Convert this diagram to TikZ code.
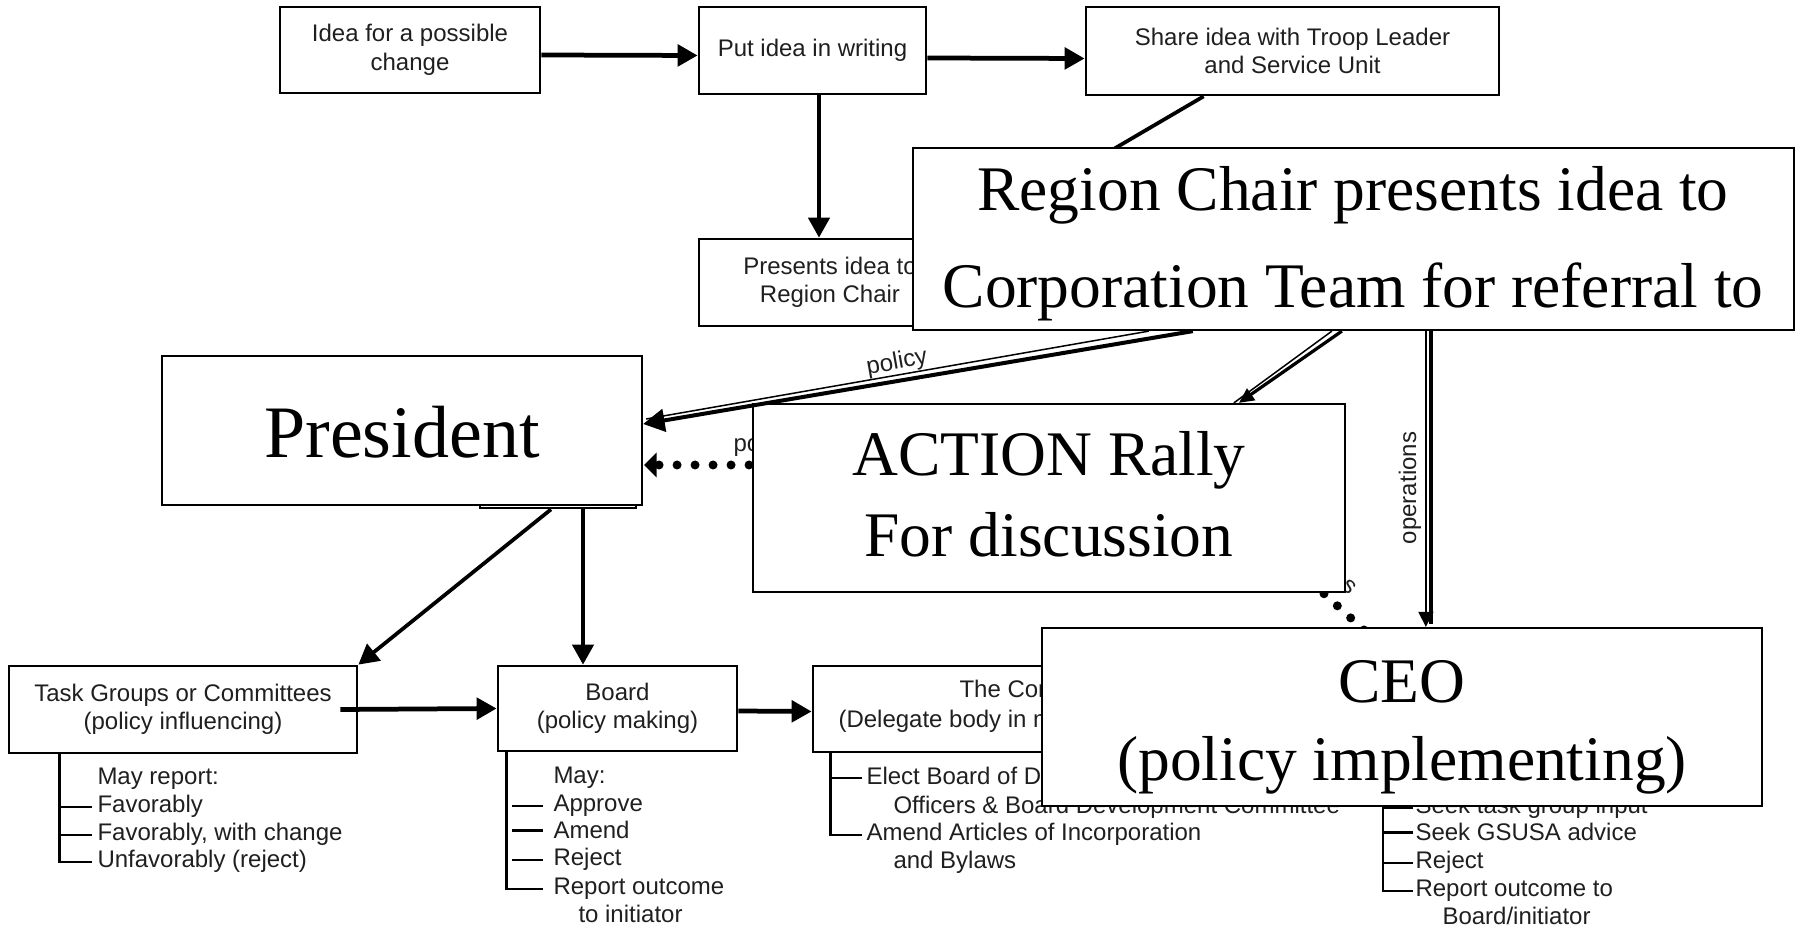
\documentclass[tikz,border=0pt]{standalone}
\usepackage{fontspec}
\setmainfont{Liberation Serif}
\setsansfont{Liberation Sans}
\usetikzlibrary{arrows.meta}
\begin{document}
\begin{tikzpicture}[x=0.4pt,y=-0.4pt,
  sm/.style={font=\sffamily\fontsize{9.6}{11.4}\selectfont, text=black!88},
  box/.style={draw, line width=1.1pt, inner sep=0pt, align=center, sm},
  ovbox/.style={draw, fill=white, line width=0.9pt, inner sep=0pt},
  bigtext/.style={font=\rmfamily\fontsize{25.4}{30}\selectfont, inner sep=0pt, anchor=base},
  itemtext/.style={sm, anchor=base west, inner sep=0pt},
  lbl/.style={sm, inner sep=0pt},
  flow/.style={line width=1.9pt, -{Triangle[length=8pt,width=8.5pt]}},
  midarrow/.style={line width=1.5pt, -{Triangle[length=8pt,width=8.5pt]}},
  thinline/.style={line width=0.6pt},
  listline/.style={line width=1pt},
  dotline/.style={line width=3.6pt, line cap=round, dash pattern=on 0pt off 7.2pt,
    -{Triangle[length=5pt,width=10pt,line width=0pt]}}
]
\useasboundingbox (0,0) rectangle (1800,930);

% ---------- underlying flowchart ----------
\node[box, minimum width=104pt, minimum height=34.4pt] (idea) at (410,50) {Idea for a possible\\change};
\node[box, minimum width=90.8pt, minimum height=34.8pt] (put) at (812.5,50.5) {Put idea in writing};
\node[box, minimum width=165.2pt, minimum height=35.2pt] (share) at (1292.5,51) {Share idea with Troop Leader\\and Service Unit};
\node[box, minimum width=104.8pt, minimum height=34.8pt] (pres) at (830,282.5) {Presents idea to\\Region Chair};

\draw[flow] ([yshift=-2pt]idea.east) -- ([yshift=-2pt]put.west);
\draw[flow] ([yshift=-3pt]put.east) -- ([yshift=-3pt]share.west);
\coordinate (pdn) at ([xshift=2.6pt]put.south);
\draw[midarrow] (pdn) -- (pdn |- pres.north);
\draw[midarrow] ([xshift=47.6pt]share.south west) -- (pres.north east);

\node[box, minimum width=62.4pt, minimum height=35.2pt] (presU) at (558,464) {};

\node[box, minimum width=139.2pt, minimum height=34.8pt] (task) at (183,709.5) {Task Groups or Committees\\(policy influencing)};
\node[box, minimum width=95.6pt, minimum height=34pt] (board) at (617.5,708.5) {Board\\(policy making)};
\node[box, minimum width=166.8pt, minimum height=34.4pt] (conv) at (1021.5,709) {};
\node[itemtext] (convt1) at (959,698) {The Corporation};
\node[itemtext] (convt2) at (838,728) {(Delegate body in membership)};

\coordinate (pA) at ([xshift=-2.8pt]presU.south);
\draw[midarrow] (pA) -- (task.north east);
\coordinate (pB) at ([xshift=10pt]presU.south);
\draw[midarrow] (pB) -- (pB |- board.north);
\draw[flow] ([xshift=-7.2pt]task.east) -- (board.west);
\draw[flow] ([yshift=-1pt]board.east) -- ([yshift=-1pt]conv.west);

% task list
\node[itemtext] (tk0) at (97,785) {May report:};
\node[itemtext] (tk1) at (97,813) {Favorably};
\node[itemtext] (tk2) at (97,841) {Favorably, with change};
\node[itemtext] (tk3) at (97,868) {Unfavorably (reject)};
\coordinate (tv) at ([xshift=20.8pt]task.south west);
\draw[listline] (tv) |- ([xshift=-2pt]tk3.west);
\foreach \n in {tk1,tk2} \draw[listline] ([xshift=-2pt]\n.west) -- (tv |- \n.west);

% board list
\node[itemtext] (bd0) at (553,784) {May:};
\node[itemtext] (bd1) at (553,812) {Approve};
\node[itemtext] (bd2) at (553,839) {Amend};
\node[itemtext] (bd3) at (553,866) {Reject};
\node[itemtext] (bd4) at (553,895) {Report outcome};
\node[itemtext] (bd5) at (578,923) {to initiator};
\coordinate (bv) at ([xshift=4pt]board.south west);
\draw[listline] (bv) |- ([xshift=-4pt]bd4.west);
\foreach \n in {bd1,bd2,bd3} \draw[listline] ([xshift=-4pt]\n.west) -- ++(-31,0);

% convention list
\node[itemtext] (cv1) at (866,785) {Elect Board of Directors,};
\node[itemtext] (cv2) at (893,814) {Officers \& Board Development Committee};
\node[itemtext] (cv3) at (866,841) {Amend Articles of Incorporation};
\node[itemtext] (cv4) at (893,869) {and Bylaws};
\coordinate (cvv) at ([xshift=7.6pt]conv.south west);
\draw[listline] (cvv) |- ([xshift=-1.6pt]cv3.west);
\draw[listline] ([xshift=-1.6pt]cv1.west) -- (cvv |- cv1.west);

% CEO list
\node[itemtext] (ce1) at (1415,814) {Seek task group input};
\node[itemtext] (ce2) at (1415,841) {Seek GSUSA advice};
\node[itemtext] (ce3) at (1415,869) {Reject};
\node[itemtext] (ce4) at (1415,897) {Report outcome to};
\node[itemtext] (ce5) at (1442,925) {Board/initiator};
\coordinate (cev) at (1383,790);
\draw[listline] (cev) |- ([xshift=-0.8pt]ce4.west);
\foreach \n in {ce1,ce2,ce3} \draw[listline] ([xshift=-0.8pt]\n.west) -- (cev |- \n.west);

% labels partly hidden
\node[itemtext] (pol2) at (733,452) {policy};
\node[sm, inner sep=0pt, anchor=base east, rotate=-42] (ops2) at (1350,596) {operations};

% ---------- overlay: President ----------
\node[ovbox, minimum width=192pt, minimum height=59.6pt] (president) at (402,430.5) {};
\node[font=\rmfamily\fontsize{29.6}{34}\selectfont, anchor=base, inner sep=0pt] (prest) at (402,458) {President};

% dotted connector CEO -> President
\coordinate (dstart) at (1364,630);
\coordinate (dmid1) at (1300,572);
\coordinate (dmid2) at (770,465);
\draw[dotline] (dstart) -- (dmid1) -- (dmid2) -- ([xshift=0.4pt,yshift=-13.8pt]president.east);

% ---------- overlays ----------
\node[ovbox, minimum width=352.4pt, minimum height=72.8pt] (region) at (1353.5,239) {};
\node[bigtext] (rc1) at (1353,211) {Region Chair presents idea to};
\node[bigtext] (rc2) at (1353,308) {Corporation Team for referral to};

\node[ovbox, minimum width=236.8pt, minimum height=75.2pt] (action) at (1049,498) {};
\node[bigtext] (ac1) at (1049,476) {ACTION Rally};
\node[bigtext] (ac2) at (1049,557) {For discussion};

\node[ovbox, minimum width=288pt, minimum height=71.2pt] (ceo) at (1402,717) {};
\node[bigtext] (ceo1) at (1402,703) {CEO};
\node[bigtext] (ceo2) at (1402,781) {(policy implementing)};

% ---------- connectors from the Region Chair box ----------
\draw[thinline] ([xshift=94.8pt]region.south west) -- ([xshift=1.2pt,yshift=4.6pt]president.east);
\draw[line width=1.6pt, -{Triangle[length=8.6pt,width=9pt]}] ([xshift=112.4pt]region.south west) -- ([yshift=2.6pt]president.east);
\node[lbl, rotate=10] (pol1) at (897,363) {policy};

\draw[thinline] ([xshift=168pt]region.south west) -- ([xshift=192.8pt]action.north west);
\draw[line width=1.3pt, -{Triangle[length=6pt,width=5.5pt]}] ([xshift=172pt]region.south west) -- ([xshift=194.8pt]action.north west);

\coordinate (opA) at ([xshift=205.6pt]region.south west);
\coordinate (opB) at ([xshift=207.6pt]region.south west);
\draw[thinline, -{Triangle[length=6pt,width=6pt]}] (opA) -- (opA |- ceo.north);
\draw[line width=1.5pt] (opB) -- ([yshift=1pt]opB |- ceo.north);
\node[lbl, rotate=90] (opl) at (1410,488) {operations};

\end{tikzpicture}
\end{document}
